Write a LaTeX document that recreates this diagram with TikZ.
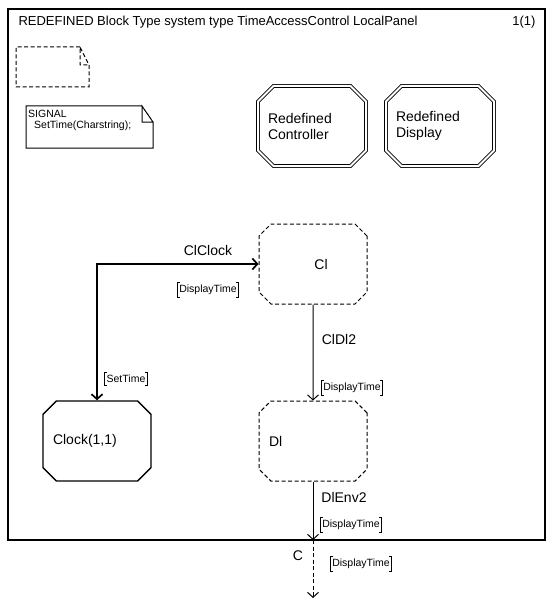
\documentclass[tikz,border=0pt]{standalone}
\usepackage{fontspec}
\setmainfont{Liberation Sans}
\usetikzlibrary{arrows.meta,shapes.misc}

\tikzset{
  block/.style={chamfered rectangle, chamfered rectangle xsep=12pt, inner xsep=-2pt,
    minimum width=108pt, minimum height=80pt, text width=88pt, align=left},
  redefblock/.style={block, draw, double, double distance=2pt, line width=0.8pt},
  realblock/.style={block, draw, line width=1.4pt},
  typeblock/.style={block, draw, dash pattern=on 4pt off 2.5pt, line width=1pt},
  channel/.style={line width=1pt},
  sigtext/.style={font=\fontsize{10.5}{12}\selectfont},
  bracket/.style={line width=1.1pt},
}

% signal list with square brackets round it
\newcommand{\siglist}[3]{%
  \node[sigtext, inner sep=2pt] (#1) at (#2) {#3};
  \draw[bracket] ([xshift=3pt]#1.north west) -- (#1.north west) -- (#1.south west) -- ([xshift=3pt]#1.south west);
  \draw[bracket] ([xshift=-3pt]#1.north east) -- (#1.north east) -- (#1.south east) -- ([xshift=-3pt]#1.south east);
}

\begin{document}
\begin{tikzpicture}[x=1pt, y=-1pt, >={Straight Barb[length=5pt,width=11pt]},
  every node/.style={font=\fontsize{14}{16}\selectfont}]
	\useasboundingbox (0,0) rectangle (554,607);
	\draw[line width=1.2pt] (8,9) rectangle (545,540);
	\node[anchor=west, font=\fontsize{13}{15}\selectfont] (title) at (15,22) {REDEFINED Block Type system type TimeAccessControl LocalPanel};
	\node[anchor=east, font=\fontsize{13}{15}\selectfont] (page) at (539,22) {1(1)};
	
	% text symbols
	\draw[dash pattern=on 4pt off 2.5pt, line width=1pt] (80,47) -- (16,47) -- (16,87) -- (89,87) -- (89,65) -- (80,47) -- (80,65) -- (89,65);
	\draw[line width=1pt] (142,106) -- (26,106) -- (26,148) -- (153,148) -- (153,122) -- (142,106) -- (142,122) -- (153,122);
	\node[sigtext, anchor=north west, align=left, inner sep=0pt] (sigdecl) at (28,110)
		{SIGNAL\\[-1pt]\hspace{6pt}SetTime(Charstring);};
	
	% blocks
	\node[redefblock] (ctrl) at (312,126) {Redefined\\Controller};
	\node[redefblock] (disp) at (440,126) {Redefined\\Display};
	\node[typeblock, align=center] (cl) at (313,264) {\hspace{16pt}Cl};
	\node[typeblock] (dl) at (313,441) {Dl};
	\node[realblock] (clock) at (97,441) {Clock(1,1)};
	
	% channels
	\draw[channel, line width=1.7pt, <->] (clock.north) |- (cl.west);
	\draw[channel, ->] (cl) -- (dl);
	\coordinate (gate) at (313,540);
	\coordinate (envC) at (313,598);
	\draw[channel, ->] (dl) -- (gate);
	\draw[channel, dash pattern=on 4pt off 2.5pt, ->] (gate) -- (envC);
	
	% channel names and signal lists
	\node (clclock) at (208,250) {ClClock};
	\node (cldl2) at (339,339) {ClDl2};
	\node (dlenv2) at (344,497) {DlEnv2};
	\node (chanC) at (298,556) {C};
	\siglist{sigA}{208,290}{DisplayTime}
	\siglist{sigB}{126,379}{SetTime}
	\siglist{sigC}{352,388}{DisplayTime}
	\siglist{sigD}{351,525}{DisplayTime}
	\siglist{sigE}{361,564}{DisplayTime}
\end{tikzpicture}
\end{document}
